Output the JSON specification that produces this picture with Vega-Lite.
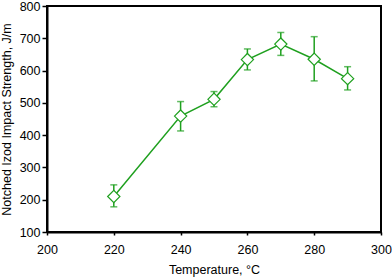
{
  "$schema": "https://vega.github.io/schema/vega-lite/v6.json",
  "width": 334,
  "height": 226,
  "autosize": {"type": "none"},
  "padding": {"left": 47, "top": 6, "right": 11, "bottom": 45},
  "background": "white",
  "data": {
    "values": [
      {"t": 220, "v": 210, "lo": 178, "hi": 246},
      {"t": 240, "v": 459, "lo": 413, "hi": 504},
      {"t": 250, "v": 511, "lo": 488, "hi": 535},
      {"t": 260, "v": 634, "lo": 602, "hi": 667},
      {"t": 270, "v": 682, "lo": 647, "hi": 718},
      {"t": 280, "v": 635, "lo": 568, "hi": 705},
      {"t": 290, "v": 575, "lo": 540, "hi": 612}
    ]
  },
  "encoding": {
    "x": {
      "field": "t", "type": "quantitative",
      "scale": {"domain": [200, 300], "nice": false, "zero": false},
      "axis": {"values": [200, 220, 240, 260, 280, 300], "title": "Temperature, °C", "labelOverlap": false}
    },
    "y": {"field": "v", "type": "quantitative",
      "scale": {"domain": [100, 800], "nice": false, "zero": false},
      "axis": {"values": [100, 200, 300, 400, 500, 600, 700, 800], "tickCount": 8, "labelOverlap": false, "title": "Notched Izod Impact Strength, J/m"}}
  },
  "layer": [
    {
      "mark": {"type": "rule", "color": "#1fa01f", "strokeWidth": 1.5},
      "encoding": {
        "y": {"field": "lo", "type": "quantitative",
          "scale": {"domain": [100, 800], "nice": false, "zero": false},
          "axis": {"values": [100, 200, 300, 400, 500, 600, 700, 800], "tickCount": 8, "labelOverlap": false, "title": "Notched Izod Impact Strength, J/m"}},
        "y2": {"field": "hi"}
      }
    },
    {
      "mark": {"type": "tick", "color": "#1fa01f", "orient": "horizontal", "size": 7, "thickness": 1.5},
      "encoding": {"y": {"field": "lo", "type": "quantitative", "axis": {"values": [100, 200, 300, 400, 500, 600, 700, 800], "tickCount": 8, "labelOverlap": false, "title": "Notched Izod Impact Strength, J/m"}}}
    },
    {
      "mark": {"type": "tick", "color": "#1fa01f", "orient": "horizontal", "size": 7, "thickness": 1.5},
      "encoding": {"y": {"field": "hi", "type": "quantitative", "axis": {"values": [100, 200, 300, 400, 500, 600, 700, 800], "tickCount": 8, "labelOverlap": false, "title": "Notched Izod Impact Strength, J/m"}}}
    },
    {
      "mark": {"type": "line", "color": "#1fa01f", "strokeWidth": 1.5}
    },
    {
      "mark": {"type": "point", "shape": "diamond", "filled": true, "fill": "white", "stroke": "#1fa01f", "strokeWidth": 1.2, "size": 150, "opacity": 1}
    }
  ],
  "config": {
    "font": "Liberation Sans",
    "view": {"stroke": "black", "strokeWidth": 2},
    "axis": {
      "grid": false,
      "domainColor": "black",
      "domainWidth": 2,
      "tickColor": "black",
      "tickWidth": 1.5,
      "labelFont": "Liberation Sans",
      "labelFontSize": 12.5,
      "labelColor": "black",
      "labelOverlap": false,
      "labelFlush": false,
      "titleFont": "Liberation Sans",
      "titleFontSize": 12.5,
      "titleFontWeight": "normal",
      "titleColor": "black"
    },
    "axisX": {"tickSize": 3, "labelPadding": 8, "titlePadding": 8},
    "axisY": {"tickSize": 5, "labelPadding": 2, "titlePadding": 6}
  }
}
